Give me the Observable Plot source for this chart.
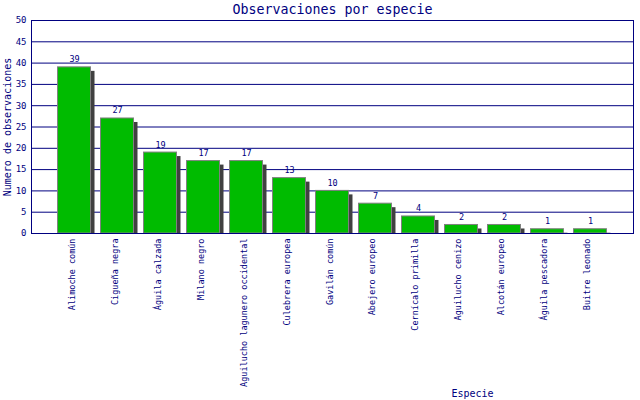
<!DOCTYPE html>
<html>
<head>
<meta charset="utf-8">
<script src="https://cdn.jsdelivr.net/npm/d3@7"></script>
<script src="https://cdn.jsdelivr.net/npm/@observablehq/plot@0.6"></script>
<style>
  html, body { margin: 0; padding: 0; background: #fff; }
  svg { display: block; }
</style>
</head>
<body>
<div id="chart"></div>
<script>
const especies = [
  "Alimoche común", "Cigueña negra", "Águila calzada", "Milano negro",
  "Aguilucho lagunero occidental", "Culebrera europea", "Gavilán común",
  "Abejero europeo", "Cernícalo primilla", "Aguilucho cenizo",
  "Alcotán europeo", "Águila pescadora", "Buitre leonado"
];
const observaciones = [39, 27, 19, 17, 17, 13, 10, 7, 4, 2, 2, 1, 1];
const yTicks = [0, 5, 10, 15, 20, 25, 30, 35, 40, 45, 50];
const titulo = "Observaciones por especie";
const etiquetaY = "Numero de observaciones";
const etiquetaX = "Especie";

const data = especies.map((e, i) => ({especie: e, n: observaciones[i]}));
const navy = "#000080";
const font = "DejaVu Sans Mono";

const chart = Plot.plot({
  width: 640,
  height: 400,
  marginTop: 20,
  marginBottom: 167,
  marginLeft: 31,
  marginRight: 7,
  style: {fontFamily: font, background: "#fff"},
  x: {domain: especies, paddingInner: 0.233, paddingOuter: 0.617, round: false, axis: null},
  y: {domain: [0, 50], axis: null},
  marks: [
    Plot.ruleY(yTicks, {stroke: navy, strokeWidth: 1}),
    Plot.barY(data, {x: "especie", y: "n", fill: "#404040", dx: 4, dy: 4, clip: true}),
    Plot.barY(data, {x: "especie", y: "n", fill: "#00bb00", stroke: "#808080", strokeWidth: 1}),
    Plot.frame({stroke: navy, strokeWidth: 1}),
    Plot.axisY({ticks: yTicks, tickSize: 0, tickPadding: 5, fontSize: 9, fill: navy, label: null}),
    Plot.text(data, {x: "especie", y: "n", text: d => String(d.n), dy: -5, lineAnchor: "bottom", fill: navy, fontSize: 8.5}),
    Plot.text(especies, {x: d => d, frameAnchor: "bottom", rotate: -90, textAnchor: "end", dy: 5, fill: navy, fontSize: 8.5}),
    Plot.text([titulo], {frameAnchor: "top", dy: -11, lineAnchor: "middle", fill: navy, fontSize: 13.3}),
    Plot.text([etiquetaY], {frameAnchor: "left", dx: -24, rotate: -90, textAnchor: "middle", fill: navy, fontSize: 10}),
    Plot.text([etiquetaX], {frameAnchor: "bottom-right", dx: -161, dy: 160, textAnchor: "middle", lineAnchor: "middle", fill: navy, fontSize: 10})
  ]
});
document.getElementById("chart").appendChild(chart);
</script>
</body>
</html>
